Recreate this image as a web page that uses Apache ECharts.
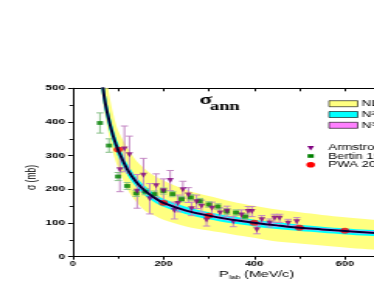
<!DOCTYPE html>
<html>
<head>
<meta charset="utf-8">
<script src="https://cdn.jsdelivr.net/npm/echarts@6/dist/echarts.min.js"></script>
<style>
html,body{margin:0;padding:0;background:#fff;overflow:hidden;width:374px;height:291px;}
#wrap{width:374px;height:291px;overflow:hidden;position:relative;}
#chart{width:300px;height:291px;transform:scaleX(1.5519);transform-origin:0 0;}
</style>
</head>
<body>
<div id="wrap"><div id="chart"></div></div>
<script>
// model grid (P_lab, MeV/c)
const xs       = [60,70,80,90,100,120,140,160,180,200,250,300,350,400,450,500,550,600,650,700,800];
const central  = [580,470,405,355,317,260,222,195,175,160,137,122,110,101,93,86,81,76,72,68,62];
const nloLow   = [540,430,360,303,265,202,163,136,122,110,90,78,67,56,45,39,33,27,22,18,12];
const nloHigh  = [700,590,485,420,375,325,285,260,240,226,198,180,164,151,140,132,124,117,111,105,96];
const n2loLow  = [540,440,380,333,297,243,207,181,162,148,126,111,99,90,82,76,71,66,62,58,52];
const n2loHigh = [620,500,430,377,337,277,237,209,188,172,148,132,120,110,102,95,89,84,80,76,70];
const n3loLow  = [565,458,395,346,309,253,216,190,170,155,133,118,106,97,89,82,77,72,68,65,59];
const n3loHigh = [595,482,415,364,325,267,228,200,180,165,141,126,114,105,97,90,85,80,76,72,66];

// Armstrong data
const armX   = [104,114,125,142,156,170,184,200,215,224,232,243,255,262,273,284,295,307,325,340,354,372,387,395,406,417,434,445,456,475,494];
const armY   = [258,320,303,194,242,172,211,196,226,137,158,199,183,142,163,150,109,144,130,135,104,124,134,134,80,110,100,114,114,99,104];
const armErr = [65,68,55,50,50,45,35,35,30,25,25,25,22,20,20,18,18,18,15,15,15,15,15,15,12,12,12,12,12,12,12];
// Bertin data
const bertX   = [60,80,100,120,140,160,180,200,220,240,260,280,300,320,340,360,380];
const bertY   = [397,330,238,210,188,193,186,195,186,171,176,165,155,149,134,131,119];
const bertErr = [30,20,12,10,9,9,9,9,8,8,8,8,8,8,8,8,8];
// PWA
const pwaX = [100,200,300,400,500,600];
const pwaY = [318,160,122,101,86,77];

// axis
const xTicks = [0,200,400,600,800];
const yTicks = [0,100,200,300,400,500];

const legendBands = ['NLO','N²LO','N³LO'];
const legendData = ['Armstrong 1987','Bertin 1996','PWA 2012'];

const FONT = 'Liberation Sans, Arial, sans-serif';

function band(low, high, color) {
  return {
    type: 'custom', clip: true, silent: true,
    data: [[0, 0]], encode: {x: 0, y: 1},
    renderItem: function (params, api) {
      const pts = [];
      for (let i = 0; i < xs.length; i++) pts.push(api.coord([xs[i], high[i]]));
      for (let i = xs.length - 1; i >= 0; i--) pts.push(api.coord([xs[i], low[i]]));
      return {type: 'polygon', shape: {points: pts, smooth: 0.3}, style: {fill: color}};
    }
  };
}
function errBars(X, Y, E, color) {
  return {
    type: 'custom', clip: true, silent: true,
    data: X.map((x, i) => [x, Y[i], E[i]]), encode: {x: 0, y: 1},
    renderItem: function (params, api) {
      const x = api.value(0), y = api.value(1), e = api.value(2);
      const t = api.coord([x, y + e]), b = api.coord([x, y - e]);
      const w = 2.3;
      const st = {stroke: color, lineWidth: 1};
      return {type: 'group', children: [
        {type: 'line', shape: {x1: t[0], y1: t[1], x2: b[0], y2: b[1]}, style: st},
        {type: 'line', shape: {x1: t[0] - w, y1: t[1], x2: t[0] + w, y2: t[1]}, style: st},
        {type: 'line', shape: {x1: b[0] - w, y1: b[1], x2: b[0] + w, y2: b[1]}, style: st}
      ]};
    }
  };
}

const chart = echarts.init(document.getElementById('chart'), null, {renderer: 'canvas'});
const grid = {left: 46.85, top: 88.3, width: 233.8, height: 168.4};

const bandColors = ['#ffff80', '#00ffff', '#ff80ff'];
const graphics = [];
// band legend
[100.7, 111.5, 122.3].forEach((y, i) => {
  graphics.push({type: 'rect', shape: {x: 212, y: y, width: 18.5, height: 6}, style: {fill: bandColors[i], stroke: '#000', lineWidth: 0.6}, z: 100});
  graphics.push({type: 'text', x: 233.1, y: y + 3.2, style: {text: legendBands[i], font: '8.5px ' + FONT, fill: '#000', textVerticalAlign: 'middle'}, z: 100});
});
// marker legend
graphics.push({type: 'polygon', shape: {points: [[198.0, 146.0], [202.4, 146.0], [200.2, 150.6]]}, style: {fill: '#800080'}, z: 100});
graphics.push({type: 'rect', shape: {x: 198.2, y: 154.2, width: 4, height: 3.6}, style: {fill: '#008000'}, z: 100});
graphics.push({type: 'circle', shape: {cx: 200.2, cy: 164.7, r: 2.8}, style: {fill: '#ff0000'}, z: 100});
[147.8, 156.2, 164.8].forEach((y, i) => {
  graphics.push({type: 'text', x: 211.5, y: y, style: {text: legendData[i], font: '8.5px ' + FONT, fill: '#000', textVerticalAlign: 'middle'}, z: 100});
});
// title sigma_ann
graphics.push({type: 'text', x: 128.6, y: 108, style: {text: 'σ', font: 'bold 15px Liberation Serif, serif', fill: '#000', textVerticalAlign: 'bottom'}, z: 100});
graphics.push({type: 'text', x: 135.2, y: 113, style: {text: 'ann', font: 'bold 12px Liberation Serif, serif', fill: '#000', textVerticalAlign: 'bottom'}, z: 100});
// y axis name
graphics.push({type: 'text', x: 20.6, y: 177.5, rotation: Math.PI / 2, style: {text: 'σ (mb)', font: '8.5px ' + FONT, fill: '#000', textAlign: 'center', textVerticalAlign: 'middle'}, z: 100});
// x axis name
graphics.push({type: 'text', x: 141.1, y: 274.6, style: {
  text: '{p|P}{s|lab}{t| (MeV/c)}', textVerticalAlign: 'middle',
  rich: {p: {font: '9.5px ' + FONT, fill: '#000'}, s: {font: '5.5px ' + FONT, fill: '#000', padding: [5, 0, 0, 0]}, t: {font: '9.2px ' + FONT, fill: '#000'}}
}, z: 100});

chart.setOption({
  animation: false,
  backgroundColor: '#fff',
  grid: grid,
  xAxis: [{
    type: 'value', min: 0, max: 800, interval: 200, position: 'bottom',
    axisLine: {show: true, onZero: false, lineStyle: {color: '#000', width: 1}},
    axisTick: {show: true, inside: false, length: 3, lineStyle: {color: '#000'}},
    minorTick: {show: true, splitNumber: 2, length: 2, lineStyle: {color: '#000'}},
    splitLine: {show: false},
    axisLabel: {show: true, margin: 4, fontSize: 7, fontWeight: 'bold', color: '#000', fontFamily: FONT,
      formatter: v => (xTicks.indexOf(v) >= 0 ? String(v) : '')}
  }, {
    type: 'value', min: 0, max: 800, interval: 100, position: 'top',
    axisLine: {show: true, onZero: false, lineStyle: {color: '#000', width: 1}},
    axisTick: {show: true, inside: true, length: 3, lineStyle: {color: '#000'}},
    splitLine: {show: false}, axisLabel: {show: false}
  }],
  yAxis: {
    type: 'value', min: 0, max: 500, interval: 100,
    axisLine: {show: true, onZero: false, lineStyle: {color: '#000', width: 1}},
    axisTick: {show: true, inside: false, length: 3, lineStyle: {color: '#000'}},
    minorTick: {show: true, splitNumber: 2, length: 2, lineStyle: {color: '#000'}},
    splitLine: {show: false},
    axisLabel: {show: true, margin: 5, fontSize: 7.5, fontWeight: 'bold', color: '#000', fontFamily: FONT,
      formatter: v => (yTicks.indexOf(v) >= 0 ? String(v) : '')}
  },
  graphic: graphics,
  series: [
    band(nloLow, nloHigh, bandColors[0]),
    band(n2loLow, n2loHigh, bandColors[1]),
    band(n3loLow, n3loHigh, bandColors[2]),
    {type: 'line', data: xs.map((x, i) => [x, central[i]]), showSymbol: false, smooth: 0.4, clip: true, silent: true,
      lineStyle: {color: '#000033', width: 2}},
    errBars(armX, armY, armErr, '#c488c4'),
    errBars(bertX, bertY, bertErr, '#88c088'),
    {type: 'scatter', data: bertX.map((x, i) => [x, bertY[i]]), symbol: 'rect', symbolSize: [4, 3.8], itemStyle: {color: '#008000'}, silent: true},
    {type: 'scatter', data: armX.map((x, i) => [x, armY[i]]), symbol: 'triangle', symbolRotate: 180, symbolSize: [4.6, 5], itemStyle: {color: '#800080'}, silent: true},
    {type: 'scatter', data: pwaX.map((x, i) => [x, pwaY[i]]), symbol: 'circle', symbolSize: 5.8, itemStyle: {color: '#ff0000'}, silent: true}
  ]
});
</script>
</body>
</html>
